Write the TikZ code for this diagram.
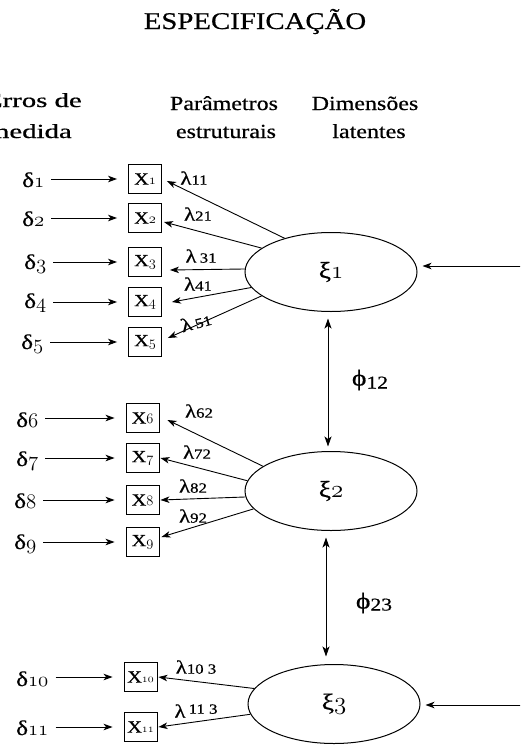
\documentclass[tikz,border=0pt]{standalone}
\usepackage{fontspec}
\usepackage{graphicx}
\setmainfont{Liberation Serif}[FakeStretch=1.2,FakeBold=0.6]
\usetikzlibrary{arrows.meta,shapes.geometric}
\newcommand\osf[1]{{\usefont{OML}{lmm}{m}{it}#1}}
\newcommand\fs[1]{\fontsize{#1}{#1}\selectfont}
\begin{document}
\begin{tikzpicture}[x=1pt,y=-1pt,
  box/.style={draw, line width=0.9pt, minimum width=33pt, minimum height=29pt, inner sep=0pt, font=\fs{17}},
  lat/.style={draw, ellipse, line width=1pt, minimum width=172pt, minimum height=79pt, inner sep=0pt, font=\fs{23}},
  arr/.style={-{Stealth[length=9pt,width=6.5pt,inset=2.5pt]}, line width=0.9pt},
  dbl/.style={{Stealth[length=10pt,width=7pt,inset=2.5pt]}-{Stealth[length=10pt,width=7pt,inset=2.5pt]}, line width=0.9pt},
  err/.style={anchor=base west, inner sep=0pt, font=\fs{21}},
  errarr/.style={arr, shorten <=7pt, shorten >=11pt},
  lam/.style={inner sep=0pt, font=\fs{19}},
  head/.style={anchor=base, inner sep=0pt, font=\fs{20}},
  phil/.style={inner sep=0pt, font=\fs{23}}
]
\useasboundingbox (0,0) rectangle (520,745);
\clip (0,0) rectangle (520,745);

% title and headers
\node[anchor=base, inner sep=0pt, font=\fs{24}] (title) at (255,29) {ESPECIFICAÇÃO};
\node[anchor=base east, inner sep=0pt, font=\fs{20}] (h1a) at (82,107) {\scalebox{1.2}[1]{Erros de}};
\node[anchor=base east, inner sep=0pt, font=\fs{20}] (h1b) at (72,138) {\scalebox{1.2}[1]{medida}};
\node[head] (h2a) at (224,110) {Parâmetros};
\node[head] (h2b) at (226,138) {estruturais};
\node[head] (h3a) at (365,110) {Dimensões};
\node[head] (h3b) at (369,138) {latentes};

% latent variables
\node[lat] (xi1) at (331,272) {ξ\osf{1}};
\node[lat] (xi2) at (331,491) {ξ\osf{2}};
\node[lat] (xi3) at (334,704) {ξ\osf{3}};

% observed variables
\node[box] (x1) at (145,179) {X\fs{14}\osf{1}};
\node[box] (x2) at (145,218) {X\fs{14}\osf{2}};
\node[box] (x3) at (145,262) {X\fs{14}\osf{3}};
\node[box] (x4) at (145,302) {X\fs{14}\osf{4}};
\node[box] (x5) at (145,342) {X\fs{14}\osf{5}};
\node[box] (x6) at (142.5,418) {X\fs{14}\osf{6}};
\node[box] (x7) at (142.5,458) {X\fs{14}\osf{7}};
\node[box] (x8) at (142.5,500) {X\fs{14}\osf{8}};
\node[box] (x9) at (142.5,542) {X\fs{14}\osf{9}};
\node[box] (x10) at (140.5,677) {X\fs{12}\osf{10}};
\node[box] (x11) at (140.5,727) {X\fs{12}\osf{11}};

% errors
\node[err] (d1) at (22,187) {δ\osf{1}};
\node[err] (d2) at (22,226) {δ\osf{2}};
\node[err] (d3) at (24,269) {δ\osf{3}};
\node[err] (d4) at (24,308) {δ\osf{4}};
\node[err] (d5) at (21,349) {δ\osf{5}};
\node[err] (d6) at (16,427) {δ\osf{6}};
\node[err] (d7) at (16,466) {δ\osf{7}};
\node[err] (d8) at (14,508) {δ\osf{8}};
\node[err] (d9) at (14,549) {δ\osf{9}};
\node[err] (d10) at (16,686) {δ\osf{10}};
\node[err] (d11) at (16,735) {δ\osf{11}};

\foreach \i in {1,...,11}{
  \draw[errarr] (d\i.east |- x\i.west) -- (x\i.west);
}

% loadings
\draw[arr] (xi1.144) -- ([xshift=5pt,yshift=-2pt]x1.east);
\draw[arr] (xi1.161) -- ([xshift=2pt,yshift=-4pt]x2.east);
\draw[arr] (xi1.178) -- ([xshift=8pt,yshift=-8pt]x3.east);
\draw[arr] (xi1.191) -- ([xshift=10pt]x4.east);
\draw[arr] (xi1.199) -- ([xshift=6pt,yshift=4pt]x5.east);
\draw[arr] (xi2.160) -- ([xshift=8pt,yshift=-2pt]x6.east);
\draw[arr] (xi2.173) -- ([xshift=1pt]x7.east);
\draw[arr] (xi2.184) -- ([xshift=1pt]x8.east);
\draw[arr] (xi2.193) -- ([xshift=2pt,yshift=5pt]x9.east);
\draw[arr] (xi3.169) -- ([xshift=1pt]x10.east);
\draw[arr] (xi3.187) -- ([xshift=1pt]x11.east);

\node[lam] (l11) at (194,178) {λ{\fs{14}11}};
\node[lam] (l21) at (198,214) {λ{\fs{14}21}};
\node[lam] (l31) at (201,256) {λ\,{\fs{14}31}};
\node[lam] (l41) at (198,284) {λ{\fs{14}41}};
\node[lam, rotate=15] (l51) at (196,322) {λ\,{\fs{14}51}};
\node[lam] (l62) at (199,411) {λ{\fs{14}62}};
\node[lam] (l72) at (197,452) {λ{\fs{14}72}};
\node[lam] (l82) at (193,486) {λ{\fs{14}82}};
\node[lam] (l92) at (193,516) {λ{\fs{14}92}};
\node[lam] (l103) at (196,667) {λ{\fs{14}10 3}};
\node[lam] (l113) at (196,711) {λ\,{\fs{14}\raisebox{4pt}{11 3}}};

% covariances
\draw[dbl] ([xshift=-3pt,yshift=-6.5pt]xi1.south) -- ([xshift=-3pt,yshift=4.5pt]xi2.north);
\draw[dbl] ([xshift=-5pt,yshift=-6.5pt]xi2.south) -- ([xshift=-8pt,yshift=7.5pt]xi3.north);
\node[phil] (p12) at (370,380) {ϕ{\fs{18}\raisebox{-3pt}{12}}};
\node[phil] (p23) at (374,603) {ϕ{\fs{18}\raisebox{-2pt}{23}}};

% incoming arrows from the right
\coordinate (e1) at (535,266);
\coordinate (e3) at (535,705);
\draw[arr] (e1) -- ([xshift=5pt,yshift=6pt]xi1.east);
\draw[arr] (e3) -- ([xshift=5pt,yshift=-1pt]xi3.east);
\end{tikzpicture}
\end{document}
